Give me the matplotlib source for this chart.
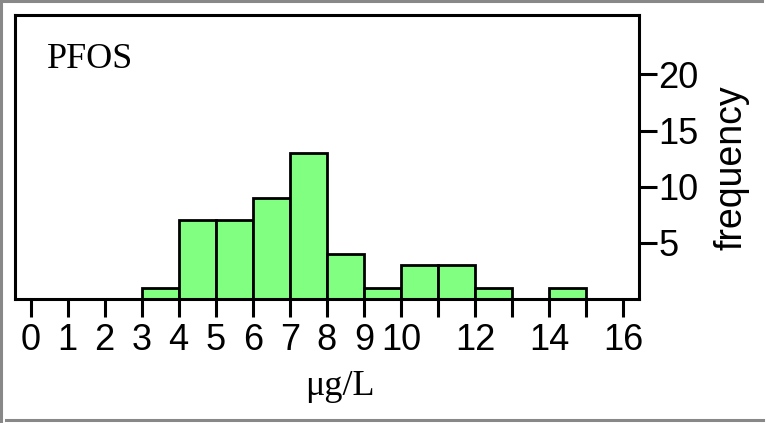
import matplotlib
matplotlib.use("Agg")
import matplotlib.pyplot as plt
from matplotlib.lines import Line2D

# Data
bin_edges = list(range(0, 17))
counts = [0, 0, 0, 1, 7, 7, 9, 13, 4, 1, 3, 3, 1, 0, 1, 0]
xtick_values = list(range(0, 17))
xtick_labels = ["0", "1", "2", "3", "4", "5", "6", "7", "8", "9", "10", "", "12", "", "14", "", "16"]
ytick_values = [5, 10, 15, 20]
title_text = "PFOS"
xlabel_text = "\u03bcg/L"
ylabel_text = "frequency"

W, H = 766, 423
fig = plt.figure(figsize=(W / 100, H / 100), dpi=100)
ax = fig.add_axes([15 / W, 1 - 299 / H, (639 - 15) / W, (299 - 15) / H])

lefts = [bin_edges[i] for i in range(len(counts)) if counts[i] > 0]
heights = [c for c in counts if c > 0]
ax.bar(lefts, heights, width=1, align="edge", color="#80ff80",
       edgecolor="black", linewidth=2.0, zorder=2)

ax.set_xlim(-0.42, 16.43)
ax.set_ylim(0, 25.3)

for s in ax.spines.values():
    s.set_linewidth(2.2)
    s.set_zorder(3)

tick_font = dict(family=["Liberation Sans", "DejaVu Sans"], size=26)
ax.set_xticks(xtick_values)
ax.set_xticklabels(xtick_labels, **tick_font)
ax.yaxis.tick_right()
ax.set_yticks(ytick_values)
ax.set_yticklabels([str(v) for v in ytick_values], **tick_font)
ax.tick_params(axis="x", direction="out", length=13, width=2.2, pad=4)
ax.tick_params(axis="y", direction="out", length=13, width=2.2, pad=1)

fig.text(47 / W, 1 - 60 / H, title_text, family="Liberation Serif", size=26,
         ha="left", va="center")
fig.text(340 / W, 1 - 386 / H, xlabel_text, family="Liberation Serif", size=26,
         ha="center", va="center")
fig.text(731 / W, 1 - 168 / H, ylabel_text, family=["Liberation Sans", "DejaVu Sans"],
         size=27, rotation=90, ha="center", va="center")

# outer gray frame
gray = "#888888"
fig.add_artist(Line2D([0, 762 / W], [1 - 1 / H, 1 - 1 / H], transform=fig.transFigure,
                      color=gray, linewidth=2.2))
fig.add_artist(Line2D([1 / W, 1 / W], [0, 1], transform=fig.transFigure,
                      color=gray, linewidth=2.2))
fig.add_artist(Line2D([6 / W, 763 / W], [1 - 420 / H, 1 - 420 / H], transform=fig.transFigure,
                      color=gray, linewidth=2.2))

fig.savefig("out.png", dpi=100)
